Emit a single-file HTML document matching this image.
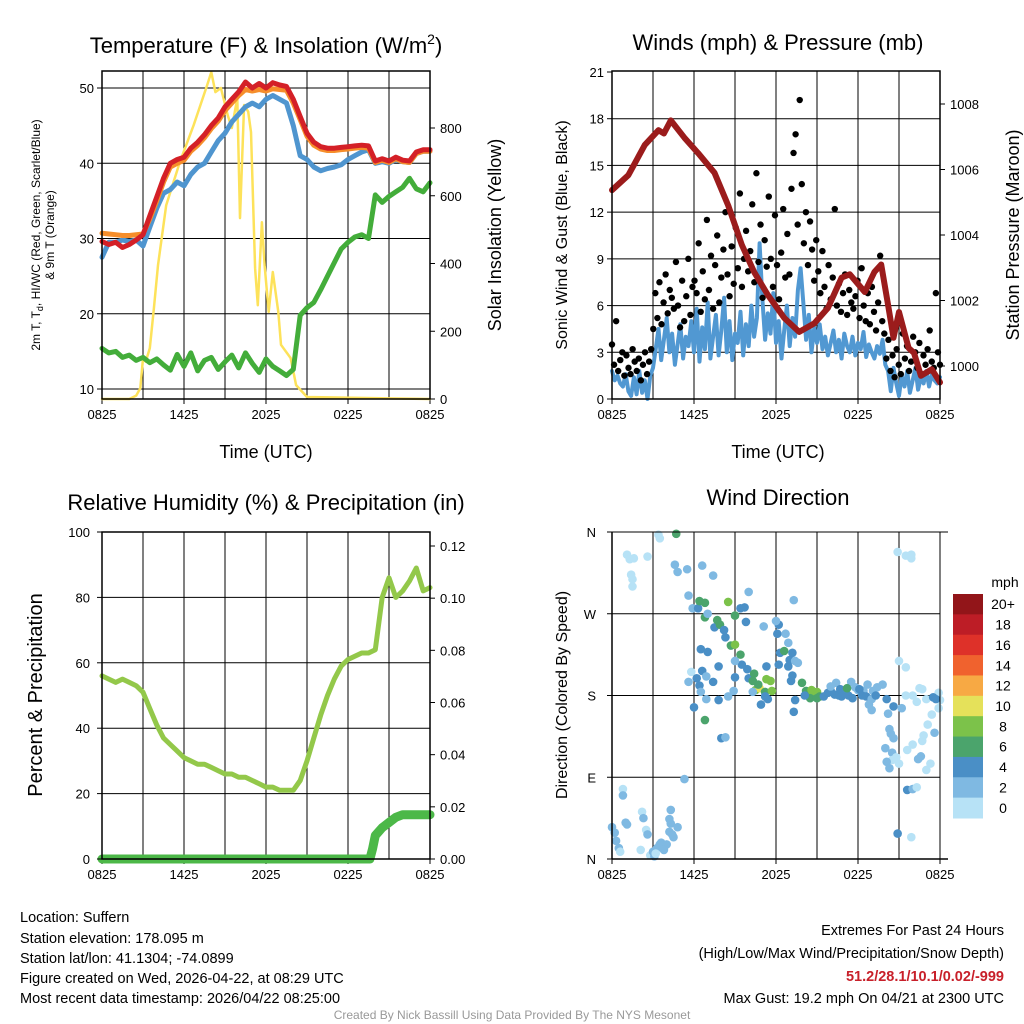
<!DOCTYPE html>
<html><head><meta charset="utf-8">
<style>
html,body{margin:0;padding:0;background:#fff;}
svg{display:block;font-family:"Liberation Sans",Arial,sans-serif;}
</style></head>
<body>
<svg id="fig" width="1024" height="1024" viewBox="0 0 1024 1024"></svg>
<script>
// ---------- DATA ----------
const tempRed = [29.6,29.2,29.5,28.8,29.2,29.8,30.5,33,35.5,38,40,40.5,40.8,42,42.8,43.8,45,46,47.5,48.5,49.5,50.8,50,50.6,50,50.7,50.4,50.2,48.5,46.2,44,42.8,42.2,42,42,42.1,42.2,42.3,42.4,42.3,40.3,40.6,40.3,40.8,40.4,40.3,41.5,41.8,41.8];
const tempOrange = [30.7,30.6,30.5,30.4,30.4,30.5,30.6,32.6,35,37.5,39.5,40,40.4,41.6,42.4,43.4,44.6,45.6,47,48,49,49.8,49.6,49.8,49.6,49.9,49.8,49.7,48,45.8,43.6,42.4,41.9,41.7,41.7,41.8,41.9,42,42.1,42,40.1,40.4,40.1,40.6,40.2,40.1,41.3,41.6,41.6];
const tempBlue = [27.5,29.5,29.5,29.8,29.6,29.8,29.0,31.5,34,36,36.5,37.5,37,38.5,39.5,40,41.5,43,44,45.5,46.5,47.5,48,47.5,48.5,49,48.5,48,45,41,40.5,39.5,39,39.3,39.5,39.8,40.5,41,41.5,41.8,40,40.2,40,40.5,40.2,40.1,41.3,41.6,41.6];
const dewGreen = [15.4,14.8,15.0,14.2,14.5,13.8,14.2,13.5,14.0,13.2,12.5,14.6,13.0,14.8,12.4,13.8,14.2,12.6,13.6,14.5,12.8,14.8,13.4,12.2,14.0,13.0,12.4,11.8,12.6,19.8,20.8,21.5,23.2,25,26.8,28.6,29.5,30.2,30.5,30.0,35.8,34.8,35.6,36.2,36.8,38.0,36.6,36.2,37.4];
const solarH = [0,2.0,2.5,2.8,3.0,3.2,3.5,3.8,4.1,4.7,5.7,6.7,7.7,8.0,8.3,8.7,9.2,9.5,9.9,10.1,10.4,10.7,10.9,11.2,11.4,11.7,11.9,12.2,12.5,12.9,13.1,13.8,14.2,15.0,24];
const solarW = [0,0,10,32,120,110,150,268,395,572,700,808,927,965,906,918,838,800,888,534,868,848,788,386,277,522,395,257,375,257,160,121,41,6,0];
const windSonic = [1.8,1.2,1.5,1.0,0.8,1.6,0.5,0.2,1.4,0.3,1.8,0.4,1.2,0.0,1.5,2.0,3.2,4.5,2.5,3.8,5.2,3.0,4.2,2.2,3.5,4.8,2.6,4.0,3.4,5.0,3.0,5.8,2.4,4.6,3.2,6.2,2.6,4.0,5.4,2.8,4.4,6.5,3.0,5.0,2.5,4.2,3.6,5.6,2.8,4.8,3.4,6.0,4.0,5.2,10.0,6.5,3.8,5.5,4.2,6.8,3.6,5.0,2.6,4.4,6.0,3.4,5.2,4.0,7.0,8.4,6.2,3.8,5.4,3.0,4.6,3.6,4.8,3.2,4.0,2.8,3.6,4.4,3.0,3.8,2.6,4.2,3.4,3.0,4.0,2.8,3.6,3.2,4.3,2.7,3.5,3.0,2.6,3.4,2.9,3.8,2.2,1.8,0.5,2.0,1.0,0.2,1.5,0.8,1.8,0.4,1.2,2.0,0.6,1.4,1.0,1.8,0.8,1.6,1.2,1.0,1.4];
const windGust = [3.5,2.2,5.0,1.8,2.5,3.0,1.5,2.8,2.0,1.6,3.2,2.4,1.8,2.6,1.2,2.2,3.0,1.6,2.4,3.2,4.5,6.8,5.2,7.5,4.8,6.2,8.0,5.5,7.0,6.5,5.8,8.8,6.0,4.6,7.6,5.0,6.6,9.0,5.4,7.2,7.6,6.8,10.0,5.6,8.2,6.4,11.5,7.0,9.2,5.8,8.6,10.5,6.2,7.8,9.6,12.0,8.0,6.6,9.8,7.4,11.0,8.4,13.2,7.2,9.0,10.8,8.2,9.5,12.5,7.5,14.5,8.8,11.2,6.5,10.2,8.5,13.0,9.0,7.2,11.8,8.6,6.4,9.4,12.2,7.8,10.6,8.0,13.5,15.8,17.0,11.2,19.2,13.8,10.0,12.0,8.6,11.4,9.6,7.6,10.2,8.2,6.8,9.5,7.2,5.8,8.6,6.4,7.8,12.2,6.0,7.4,5.6,6.8,8.0,5.4,7.0,6.2,5.8,6.6,7.6,5.2,8.4,6.0,5.0,6.8,4.8,7.2,5.6,4.4,6.2,9.2,5.0,4.2,2.6,3.8,1.8,2.8,1.4,3.2,2.2,1.6,4.2,2.6,3.4,1.8,2.4,4.0,3.0,2.0,3.6,1.6,2.8,2.2,3.2,4.4,2.4,2.0,6.8,3.0,2.2];
const presH = [0,1.2,2.4,3.4,3.8,4.3,5.3,6.3,7.5,8.5,9.5,10.4,11.4,12.6,13.7,14.8,15.8,16.8,17.4,18.5,19.2,19.7,20.2,20.6,21.0,21.7,22.1,22.6,23.4,24];
const presMb = [1005.37,1005.83,1006.75,1007.2,1007.1,1007.5,1006.97,1006.5,1005.9,1004.9,1003.7,1002.87,1002.17,1001.47,1001.04,1001.3,1001.77,1002.7,1002.8,1002.26,1002.87,1003.1,1001.86,1000.86,1001.65,1000.55,1000.4,999.7,999.9,999.5];
const rhPct = [56,55,54,55,54,53,51,46,41,37,35,33,31,30,29,29,28,27,26,26,25,25,24,23,22,22,21,21,21,24,30,37,44,50,55,59,61,62,63,63,64,80,86,80,82,85,89,82,83];
const precipH = [0,19.6,19.8,20.0,20.5,21.0,21.5,22,24];
const precipIn = [0,0,0.004,0.009,0.012,0.014,0.016,0.017,0.017];
const dirH = [1.1,1.3,1.6,2.6,1.4,1.5,1.5,3.4,3.5,4.7,0,0.2,0.3,0.5,0.6,0.8,0.8,1.0,1.1,2.1,2.5,2.6,2.2,2.3,2.8,3.0,3.1,3.3,3.5,3.6,4.0,4.2,4.3,4.5,4.2,4.4,4.8,5.3,4.3,3.2,3.8,4.6,4.8,5.5,6.6,7.4,5.6,5.9,6.3,6.4,6.8,6.8,7.0,7.5,7.9,7.7,8.2,8.3,8.7,9.0,8.5,9.0,9.4,9.7,9.8,9.4,9.5,9.0,6.5,6.6,7.0,7.4,7.8,6.2,6.4,6.5,5.6,5.8,6.9,6.0,6.9,6.8,7.8,8.5,8.0,8.3,9.0,9.9,10.0,10.4,10.3,10.5,10.8,10.7,11.2,11.3,11.6,11.7,11.2,11.4,10.9,10.3,8.9,12.2,12.3,12.6,12.2,12.0,12.1,12.7,12.9,13.2,12.9,13.0,13.6,13.4,13.2,13.1,13.4,13.3,13.3,11.1,11.3,10.0,13.9,14.2,14.6,14.7,14.5,15.0,15.2,15.0,15.5,15.8,16.0,16.3,16.6,16.0,16.4,16.7,17.0,17.3,17.6,17.5,17.8,18.0,18.4,18.7,18.3,18.6,19.1,19.4,19.0,19.3,19.8,18.8,19.0,18.1,17.2,14.1,16.8,20.1,20.6,20.2,20.3,20.4,20.6,20.0,20.5,20.5,20.8,21.0,20.1,20.3,21.2,21.5,21.6,22.0,22.3,22.5,22.7,23.0,23.1,23.4,22.6,22.4,23.0,23.3,23.6,23.9,23.9,24.0,23.5,23.7,22.8,22.7,21.6,22.0,22.3,20.9,21.9,20.9,21.5,21.9,21.9,21.0,21.5,22.0];
const dirDeg = [335,330,331,333,313,308,300,357,353,359,35,29,20,12,8,77,70,40,38,10,32,27,52,45,4,8,3,12,16,18,16,30,39,24,44,27,35,88,54,6,10,324,316,319,323,312,290,276,276,284,282,266,270,255,258,263,252,244,235,236,283,268,276,277,261,225,214,218,231,207,228,195,212,199,191,184,195,206,176,167,201,153,175,179,133,134,200,209,199,204,196,186,188,192,184,198,196,185,179,176,170,184,185,214,227,229,258,262,248,248,238,227,212,219,216,218,202,196,175,162,285,256,212,294,194,185,186,181,177,184,179,177,179,183,185,181,180,190,194,187,185,180,177,195,189,186,185,192,180,179,185,189,176,180,192,170,164,187,188,180,179,176,168,160,143,138,133,122,117,109,112,105,107,100,166,180,120,126,173,188,187,176,148,159,113,110,98,105,139,183,166,175,178,176,136,130,76,77,79,28,24,338,334,335,331,218,211,180];
const dirSpd = [1,1,1,1,1,1,1,1,1,6,2,2,2,2,1,1,2,2,2,1,1,2,1,2,1,2,2,3,3,3,3,3,3,3,3,2,2,2,2,1,2,2,2,2,2,2,2,2,4,6,6,6,2,4,6,6,4,4,6,8,8,6,4,4,4,6,4,2,4,4,4,4,4,4,4,2,2,0,2,4,2,6,4,2,4,2,4,4,4,6,6,8,10,6,6,8,8,8,4,4,4,2,2,4,4,6,4,2,4,2,2,4,4,4,2,2,4,4,4,4,2,2,4,2,6,6,8,8,6,8,6,6,4,4,4,4,4,2,2,4,4,4,4,2,2,2,2,2,4,4,2,2,2,4,2,2,2,4,6,4,4,4,4,2,2,2,2,2,2,1,1,1,2,2,2,1,1,1,1,1,1,1,1,1,2,2,1,1,2,1,1,1,4,4,1,1,4,2,1,4,1,1,1,1,0,1,1,1];
const tempTicks = [10,20,30,40,50];
const solarTicks = [0,200,400,600,800];
const windTicks = [0,3,6,9,12,15,18,21];
const presTicks = [1000,1002,1004,1006,1008];
const rhTicks = [0,20,40,60,80,100];
const precipTicks = [0,0.02,0.04,0.06,0.08,0.10,0.12];
const dirTickLabels = ['N','E','S','W','N'];
const timeTickLabels = ['0825','1425','2025','0225','0825'];
const speedLabels = ['20+','18','16','14','12','10','8','6','4','2','0'];
const speedColors = ['#921519','#bd1d26','#de3129','#f0622e','#f7a944','#e5e15a','#7cc24a','#4ba46c','#4a8fc6','#7fb9e2','#b7e2f6'];

// ---------- helpers ----------
const NS='http://www.w3.org/2000/svg';
const svg=document.getElementById('fig');
function el(tag,attrs,parent){const e=document.createElementNS(NS,tag);for(const k in attrs)e.setAttribute(k,attrs[k]);(parent||svg).appendChild(e);return e;}
function txt(s,x,y,size,anchor,parent,extra){const t=el('text',Object.assign({x:x,y:y,'font-size':size,'text-anchor':anchor||'middle',fill:'#000'},extra||{}),parent);t.textContent=s;return t;}
function lin(d0,d1,r0,r1){return v=>r0+(v-d0)*(r1-r0)/(d1-d0);}
function seqH(n){const a=[];for(let i=0;i<n;i++)a.push(i*24/(n-1));return a;}
function path(xs,ys,sx,sy,color,w,parent){let d='';for(let i=0;i<xs.length;i++)d+=(i?'L':'M')+sx(xs[i]).toFixed(1)+' '+sy(ys[i]).toFixed(1);return el('path',{d:d,fill:'none',stroke:color,'stroke-width':w,'stroke-linejoin':'round','stroke-linecap':'round'},parent);}

function panel(name,x0,x1,y0,y1,hgrid){
  const g=el('g',{});
  
  
  const sx=lin(0,24,x0,x1);
  for(let h=3;h<24;h+=3){const l=el('line',{x1:sx(h),x2:sx(h),y1:y0,y2:y1,stroke:'#000','stroke-width':1},g);}
  hgrid.forEach(y=>{const l=el('line',{x1:x0,x2:x1,y1:y,y2:y,stroke:'#000','stroke-width':1},g);});
  for(let i=0;i<5;i++){const xx=sx(i*6);el('line',{x1:xx,x2:xx,y1:y1,y2:y1+5,stroke:'#000'},g);const t=txt(timeTickLabels[i],xx,y1+20,13,'middle',g);}
  return {g,sx};
}
function frame(g,x0,x1,y0,y1){const r=el('rect',{x:x0,y:y0,width:x1-x0,height:y1-y0,fill:'none',stroke:'#000','stroke-width':1.5},g);}

// ---------- Panel 1: temperature ----------
(function(){
  const x0=102,x1=430,y0=71,y1=399;
  const sT=lin(10,50,389,88), sS=lin(0,800,399,128);
  const {g,sx}=panel('temperature-panel',x0,x1,y0,y1,tempTicks.map(sT));
  const hT=seqH(tempRed.length);
  const ys=path(solarH,solarW,sx,sS,'#fde25a',2.5,g);
  const gr=path(seqH(dewGreen.length),dewGreen,sx,sT,'#43ad3a',5,g);
  const bl=path(seqH(tempBlue.length),tempBlue,sx,sT,'#4f95cf',5,g);
  const or=path(hT,tempOrange,sx,sT,'#f68e2b',5,g);
  const rd=path(hT,tempRed,sx,sT,'#d42027',5,g);
  frame(g,x0,x1,y0,y1);
  tempTicks.forEach(v=>{el('line',{x1:x0-5,x2:x0,y1:sT(v),y2:sT(v),stroke:'#000'},g);const t=txt(String(v),x0-8,sT(v)+5,13,'end',g);});
  solarTicks.forEach(v=>{el('line',{x1:x1,x2:x1+5,y1:sS(v),y2:sS(v),stroke:'#000'},g);const t=txt(String(v),x1+10,sS(v)+5,13,'start',g);});
  const ti=txt('',266,53,22,'middle',g);
  ti.innerHTML='Temperature (F) &amp; Insolation (W/m<tspan font-size="14" dy="-9">2</tspan><tspan dy="9">)</tspan>';
  const xl=txt('Time (UTC)',266,458,18,'middle',g);
  const yl=txt('',0,0,12,'middle',g,{transform:'translate(40,235) rotate(-90)'});
  yl.innerHTML='2m T, T<tspan font-size="9" dy="3">d</tspan><tspan dy="-3">, HI/WC (Red, Green, Scarlet/Blue)</tspan>';
  const yl2=txt('& 9m T (Orange)',0,0,12,'middle',g,{transform:'translate(54,235) rotate(-90)'});
  const yr=txt('Solar Insolation (Yellow)',0,0,18,'middle',g,{transform:'translate(501,235) rotate(-90)'});
})();

// ---------- Panel 2: winds ----------
(function(){
  const x0=612,x1=940,y0=71,y1=399;
  const sW=lin(0,21,399,72), sP=lin(1000,1008,366,104);
  const {g,sx}=panel('winds-panel',x0,x1,y0,y1,windTicks.slice(1,7).map(sW));
  const wb=path(seqH(windSonic.length),windSonic,sx,sW,'#5198d2',4,g);
  const gh=seqH(windGust.length);
  windGust.forEach((v,i)=>{const c=el('circle',{cx:sx(gh[i]),cy:sW(v),r:3.2,fill:'#000'},g);});
  const pr=path(presH,presMb,sx,sP,'#9b1c1c',6,g);
  frame(g,x0,x1,y0,y1);
  windTicks.forEach(v=>{el('line',{x1:x0-5,x2:x0,y1:sW(v),y2:sW(v),stroke:'#000'},g);const t=txt(String(v),x0-8,sW(v)+5,13,'end',g);});
  presTicks.forEach(v=>{el('line',{x1:x1,x2:x1+5,y1:sP(v),y2:sP(v),stroke:'#000'},g);const t=txt(String(v),x1+10,sP(v)+5,13,'start',g);});
  const ti=txt('Winds (mph) & Pressure (mb)',778,50,22,'middle',g);
  const xl=txt('Time (UTC)',778,458,18,'middle',g);
  const yl=txt('Sonic Wind & Gust (Blue, Black)',0,0,16,'middle',g,{transform:'translate(567,235) rotate(-90)'});
  const yr=txt('Station Pressure (Maroon)',0,0,18,'middle',g,{transform:'translate(1019,235) rotate(-90)'});
})();

// ---------- Panel 3: RH & precip ----------
(function(){
  const x0=102,x1=430,y0=532,y1=859;
  const sR=lin(0,100,859,532), sQ=lin(0,0.12,859,546);
  const {g,sx}=panel('humidity-panel',x0,x1,y0,y1,[20,40,60,80].map(sR));
  const rh=path(seqH(rhPct.length),rhPct,sx,sR,'#93c84a',5,g);
  const pq=path(precipH,precipIn,sx,sQ,'#4cb848',9,g);
  frame(g,x0,x1,y0,y1);
  rhTicks.forEach(v=>{el('line',{x1:x0-5,x2:x0,y1:sR(v),y2:sR(v),stroke:'#000'},g);const t=txt(String(v),x0-12,sR(v)+5,13,'end',g);});
  precipTicks.forEach(v=>{el('line',{x1:x1,x2:x1+5,y1:sQ(v),y2:sQ(v),stroke:'#000'},g);const t=txt(v.toFixed(2),x1+10,sQ(v)+5,13,'start',g);});
  const ti=txt('Relative Humidity (%) & Precipitation (in)',266,510,22,'middle',g);
  const yl=txt('Percent & Precipitation',0,0,20,'middle',g,{transform:'translate(42,695) rotate(-90)'});
})();

// ---------- Panel 4: wind direction ----------
(function(){
  const x0=612,x1=940,y0=532,y1=859;
  const sD=lin(0,360,859,532);
  const {g,sx}=panel('wind-direction-panel',x0,x1,y0,y1,[90,180,270].map(sD));
  dirH.forEach((h,i)=>{const cls=Math.min(10,Math.floor(dirSpd[i]/2));const c=el('circle',{cx:sx(h),cy:sD(Math.min(dirDeg[i],358)),r:4.3,fill:speedColors[10-cls]},g);});
  el('line',{x1:x0,x2:x1+8,y1:y0,y2:y0,stroke:'#000','stroke-width':1},g);
  el('line',{x1:x0,x2:x1+8,y1:y1,y2:y1,stroke:'#000','stroke-width':1.5},g);
  el('line',{x1:x0,x2:x0,y1:y0,y2:y1,stroke:'#000','stroke-width':1.5},g);
  el('line',{x1:x1,x2:x1,y1:y0,y2:y1,stroke:'#000','stroke-width':1},g);
  dirTickLabels.forEach((s,i)=>{const y=sD(i*90);el('line',{x1:x0-5,x2:x0,y1:y,y2:y,stroke:'#000'},g);const t=txt(s,x0-16,y+5,13,'end',g);});
  const ti=txt('Wind Direction',778,505,22,'middle',g);
  const yl=txt('Direction (Colored By Speed)',0,0,16,'middle',g,{transform:'translate(567,695) rotate(-90)'});
  const cb=el('g',{},g);
  const cy0=594,seg=(818-594)/11;
  speedColors.forEach((c,i)=>{const r=el('rect',{x:953,y:cy0+i*seg,width:30,height:seg+0.5,fill:c},cb);
    const t=txt(speedLabels[i],1003,cy0+i*seg+seg/2+5,14,'middle',cb);});
  const u=txt('mph',1005,587,14,'middle',cb);
})();
</script>
<svg width="1024" height="1024" style="position:absolute;left:0;top:0;font-family:'Liberation Sans',Arial,sans-serif">
<g font-size="14.5" fill="#000">
<text x="20" y="922">Location: Suffern</text>
<text x="20" y="943">Station elevation: 178.095 m</text>
<text x="20" y="963">Station lat/lon: 41.1304; -74.0899</text>
<text x="20" y="983">Figure created on Wed, 2026-04-22, at 08:29 UTC</text>
<text x="20" y="1003">Most recent data timestamp: 2026/04/22 08:25:00</text>
<text x="1004" y="935" text-anchor="end">Extremes For Past 24 Hours</text>
<text x="1004" y="958" text-anchor="end">(High/Low/Max Wind/Precipitation/Snow Depth)</text>
<text x="1004" y="981" text-anchor="end" fill="#c8202a" font-weight="bold">51.2/28.1/10.1/0.02/-999</text>
<text x="1004" y="1003" text-anchor="end">Max Gust: 19.2 mph On 04/21 at 2300 UTC</text>
</g>
<text x="512" y="1019" text-anchor="middle" font-size="12" fill="#999">Created By Nick Bassill Using Data Provided By The NYS Mesonet</text>
</svg>
</body></html>
